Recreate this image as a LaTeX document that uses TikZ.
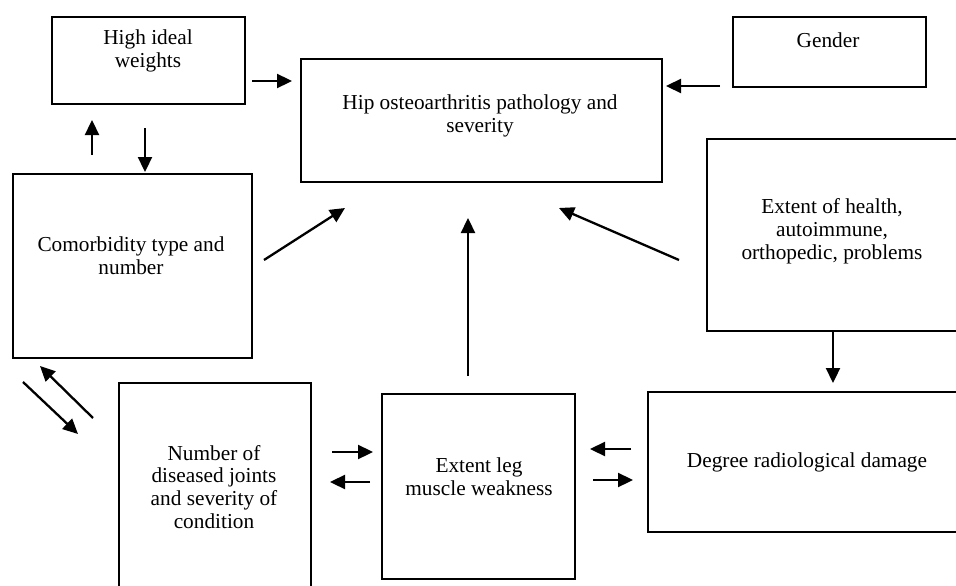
\documentclass[tikz,border=0pt]{standalone}
\usepackage{fontspec}
\setmainfont{Liberation Serif}
\usetikzlibrary{arrows.meta}
\tikzset{
  box/.style={draw, line width=1.9pt, rectangle, inner sep=0pt, anchor=north west},
  txt/.style={align=center, inner sep=0pt, font=\fontsize{21.3}{22.8}\selectfont},
  arr/.style={line width=2.3pt, -{Triangle[length=15pt,width=14pt]}}
}
\begin{document}
\begin{tikzpicture}[x=1pt,y=-1pt]
\useasboundingbox (0,0) rectangle (956,586);
\clip (0,0) rectangle (956,586);
% boxes
\node[box, minimum width=193pt, minimum height=87pt] (hiw) at (51,16) {};
\node[box, minimum width=361pt, minimum height=123pt] (hip) at (300,58) {};
\node[box, minimum width=193pt, minimum height=70pt] (gen) at (732,16) {};
\node[box, minimum width=270pt, minimum height=192pt] (ext) at (706,138) {};
\node[box, minimum width=239pt, minimum height=184pt] (com) at (12,173) {};
\node[box, minimum width=192pt, minimum height=230pt] (num) at (118,382) {};
\node[box, minimum width=193pt, minimum height=185pt] (leg) at (381,393) {};
\node[box, minimum width=330pt, minimum height=140pt] (deg) at (647,391) {};
% texts
\node[txt] (thiw) at (148,51) {High ideal\\weights};
\node[txt] (thip) at (480,116) {Hip osteoarthritis pathology and\\severity};
\node[txt] (tgen) at (828,40) {Gender};
\node[txt] (text) at (832,231) {Extent of health,\\autoimmune,\\orthopedic, problems};
\node[txt] (tcom) at (131,256) {Comorbidity type and\\number};
\node[txt] (tnum) at (214,487) {Number of\\diseased joints\\and severity of\\condition};
\node[txt] (tleg) at (479,477) {Extent leg\\muscle weakness};
\node[txt] (tdeg) at (807,462) {Degree radiological damage};
% arrow end points
\coordinate (a1s) at (252,81);  \coordinate (a1e) at (292,81);
\coordinate (a2s) at (720,86);  \coordinate (a2e) at (666,86);
\coordinate (a3s) at (92,155);  \coordinate (a3e) at (92,120);
\coordinate (a4s) at (145,128); \coordinate (a4e) at (145,172);
\coordinate (a5s) at (264,260); \coordinate (a5e) at (345,208);
\coordinate (a6s) at (468,376); \coordinate (a6e) at (468,218);
\coordinate (a7s) at (679,260); \coordinate (a7e) at (559,208);
\coordinate (a8s) at (833,330); \coordinate (a8e) at (833,383);
\coordinate (a9s) at (93,418);  \coordinate (a9e) at (40,366);
\coordinate (a10s) at (23,382); \coordinate (a10e) at (78,434);
\coordinate (a11s) at (332,452); \coordinate (a11e) at (373,452);
\coordinate (a12s) at (370,482); \coordinate (a12e) at (330,482);
\coordinate (a13s) at (631,449); \coordinate (a13e) at (590,449);
\coordinate (a14s) at (593,480); \coordinate (a14e) at (633,480);
% arrows
\draw[arr] (a1s) -- (a1e);
\draw[arr] (a2s) -- (a2e);
\draw[arr] (a3s) -- (a3e);
\draw[arr] (a4s) -- (a4e);
\draw[arr] (a5s) -- (a5e);
\draw[arr] (a6s) -- (a6e);
\draw[arr] (a7s) -- (a7e);
\draw[arr] (a8s) -- (a8e);
\draw[arr] (a9s) -- (a9e);
\draw[arr] (a10s) -- (a10e);
\draw[arr] (a11s) -- (a11e);
\draw[arr] (a12s) -- (a12e);
\draw[arr] (a13s) -- (a13e);
\draw[arr] (a14s) -- (a14e);
\end{tikzpicture}
\end{document}
